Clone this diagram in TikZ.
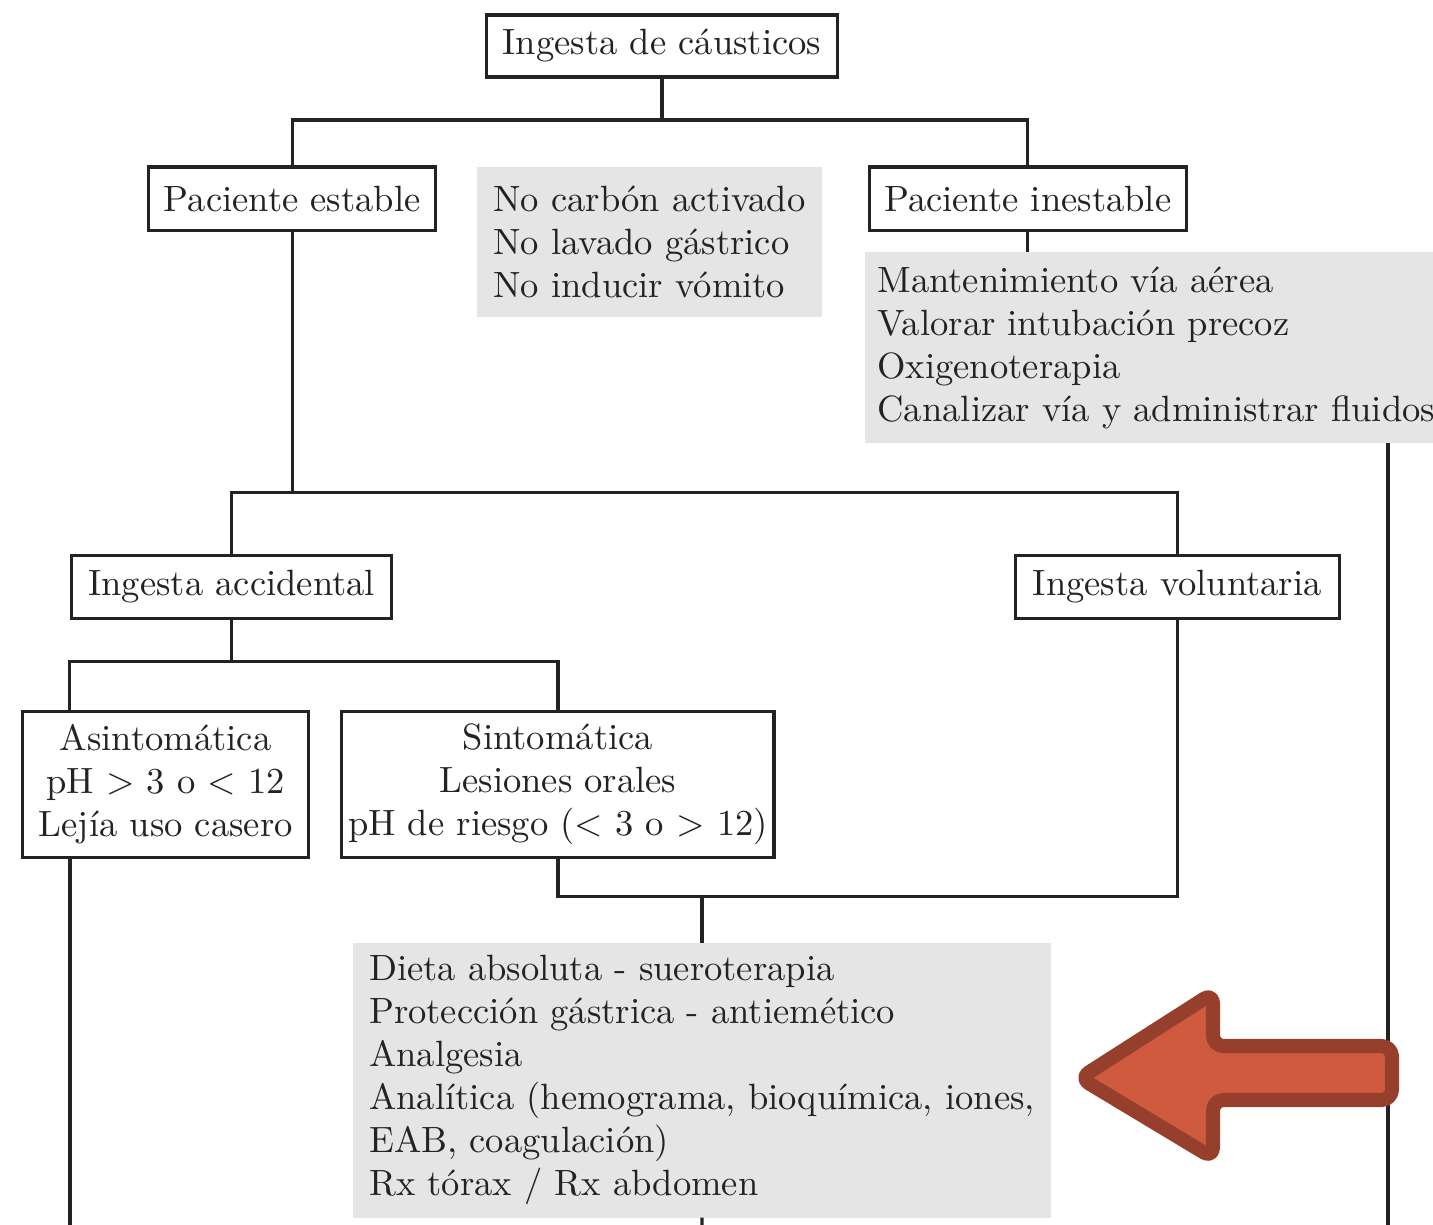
\documentclass[tikz,border=0pt]{standalone}
\usepackage{xcolor}
\usepackage{tikz}
\usetikzlibrary{positioning}

\definecolor{boxgray}{RGB}{229,229,229}
\definecolor{linegray}{RGB}{35,35,35}
\definecolor{arrowfill}{RGB}{208,90,62}
\definecolor{arrowedge}{RGB}{150,63,44}

\begin{document}
\begin{tikzpicture}[
    x=0.01cm, y=-0.01cm,
    every node/.style={font=\fontsize{10.4}{12.24}\selectfont, text=linegray},
    box/.style={rectangle, draw=linegray, line width=0.9pt, fill=white, align=center, inner sep=0pt, outer sep=0pt},
    gbox/.style={rectangle, fill=boxgray, align=left, inner sep=0pt, outer sep=0pt},
    link/.style={draw=linegray, line width=0.9pt},
    bigarrow/.style={fill=arrowfill, draw=arrowedge, line width=4pt, line join=round, rounded corners=3pt}
]
\useasboundingbox (0,0) rectangle (1433,1225);

% Start
\node[box, minimum width=3.5cm, minimum height=0.62cm] (ingesta) at (662,46) {Ingesta de cáusticos};

% Patient state
\node[box, below=0.9cm of ingesta, xshift=-3.695cm, minimum width=2.87cm, minimum height=0.63cm] (p-estable) {Paciente estable};
\node[gbox, below=0.9cm of ingesta, xshift=-0.125cm, minimum width=3.45cm, minimum height=1.5cm] (no-medidas) {No carbón activado\\No lavado gástrico\\No inducir vómito};
\node[box, below=0.9cm of ingesta, xshift=3.655cm, minimum width=3.17cm, minimum height=0.63cm] (p-inestable) {Paciente inestable};
\node[gbox, below=0.22cm of p-inestable, xshift=1.285cm, minimum width=5.82cm, minimum height=1.91cm] (soporte) {Mantenimiento vía aérea\\Valorar intubación precoz\\Oxigenoterapia\\Canalizar vía y administrar fluidos};

% Type of ingestion
\node[box, below=3.25cm of p-estable, xshift=-0.605cm, minimum width=3.2cm, minimum height=0.63cm] (accidental) {Ingesta accidental};
\node[box, below=3.25cm of p-estable, xshift=8.845cm, minimum width=3.24cm, minimum height=0.63cm] (voluntaria) {Ingesta voluntaria};

% Symptoms
\node[box, below=0.93cm of accidental, xshift=-0.66cm, minimum width=2.86cm, minimum height=1.46cm] (asint) {Asintomática\\pH \textgreater{} 3 o \textless{} 12\\Lejía uso casero};
\node[box, below=0.93cm of accidental, xshift=3.26cm, minimum width=4.32cm, minimum height=1.46cm] (sint) {Sintomática\\Lesiones orales\\pH de riesgo (\textless{} 3 o \textgreater{} 12)};

% Treatment
\node[gbox, below=0.85cm of sint, xshift=1.44cm, minimum width=6.98cm, minimum height=2.75cm] (tratamiento) {Dieta absoluta - sueroterapia\\Protección gástrica - antiemético\\Analgesia\\Analítica (hemograma, bioquímica, iones,\\EAB, coagulación)\\Rx tórax / Rx abdomen};

\coordinate (fin-ines) at (1388,1225);
\coordinate (fin-asint) at (70,1225);
\coordinate (fin-trat) at (702,1225);

% Connectors
\draw[link] (ingesta.south) -- ++(0,43) coordinate (r1);
\draw[link] (p-estable.north) |- (r1) -| (p-inestable.north);
\draw[link] (p-inestable.south) -- (p-inestable.south |- soporte.north);
\draw[link] (soporte.south -| fin-ines) -- (fin-ines);
\draw[link] (p-estable.south) -- ++(0,262) coordinate (r2);
\draw[link] (accidental.north) |- (r2) -| (voluntaria.north);
\draw[link] (accidental.south) -- ++(0,43) coordinate (r3);
\draw[link] ([xshift=0.47cm]asint.north west) |- (r3) -| (sint.north);
\draw[link] (asint.south -| fin-asint) -- (fin-asint);
\draw[link] (sint.south) -- ++(0,39) coordinate (r4) -| (voluntaria.south);
\draw[link] (tratamiento.north) -- (tratamiento.north |- r4);
\draw[link] (tratamiento.south) -- (fin-trat);

% Highlight arrow
\draw[bigarrow] (1080,1078) -- (1213,993) -- (1213,1046) -- (1392,1046) -- (1392,1100) -- (1213,1100) -- (1213,1158) -- cycle;

\end{tikzpicture}
\end{document}
